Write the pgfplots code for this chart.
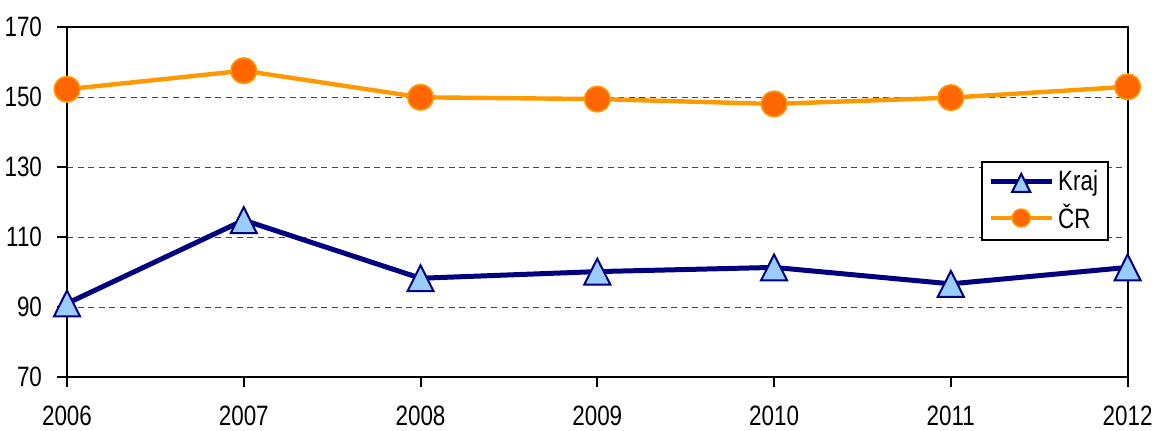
\documentclass[border=0pt]{standalone}
\usepackage{fontspec}
\setmainfont{Liberation Sans}[FakeStretch=0.8]
\usepackage{pgfplots}
\pgfplotsset{compat=1.18}
\definecolor{navyK}{RGB}{0,0,128}
\definecolor{lblue}{RGB}{153,204,255}
\definecolor{orgL}{RGB}{255,153,0}
\definecolor{orgF}{RGB}{255,102,0}
\definecolor{gridg}{RGB}{70,70,70}
\begin{document}
\begin{tikzpicture}
\useasboundingbox (0pt,0pt) rectangle (577.5pt,215pt);
\begin{axis}[
  at={(33.5pt,26.35pt)}, anchor=south west,
  scale only axis, width=530.3pt, height=175pt,
  xmin=2006, xmax=2012, ymin=70, ymax=170,
  xtick={2006,2007,2008,2009,2010,2011,2012},
  ytick={70,90,110,130,150,170},
  /pgf/number format/assume math mode=true,
  /pgf/number format/set thousands separator={},
  font=\fontsize{14}{16}\selectfont,
  ticklabel style={font=\fontsize{14}{16}\selectfont},
  yticklabel style={anchor=east, xshift=-4pt},
  xticklabel style={anchor=north, inner ysep=0pt, text depth=0pt, yshift=-9.3pt},
  tick align=outside, tick pos=left,
  major tick length=5pt,
  tick style={black, line width=1pt},
  axis line style={black, line width=1.1pt},
  ymajorgrids,
  major grid style={gridg, line width=0.55pt, dash pattern=on 3pt off 2.3pt},
  clip=false,
  legend cell align=left,
  legend style={at={(rel axis cs:0.9825,0.618)}, anchor=north east,
    draw=black, line width=1pt, inner xsep=3pt, inner ysep=2pt,
    row sep=1.5pt, font=\fontsize{14}{16}\selectfont,
    /tikz/every even column/.append style={column sep=2pt}},
  legend image code/.code={%
    \draw[mark repeat=2, mark phase=2, #1, every mark/.append style={scale=0.7}]
      plot coordinates {(0pt,0pt) (15.25pt,0pt) (30.5pt,0pt)};},
]
\addplot[navyK, line width=2.5pt, mark=triangle*, mark size=7.5pt,
  mark options={fill=lblue, draw=navyK, line width=1pt, yshift=-2.15pt, yscale=1.15}]
  coordinates {(2006,91.1) (2007,114.9) (2008,98.3) (2009,100.2) (2010,101.4) (2011,96.7) (2012,101.4)};
\addlegendentry{Kraj}
\addplot[orgL, line width=2.2pt, mark=*, mark size=6.4pt,
  mark options={fill=orgF, draw=orgL, line width=0.8pt}]
  coordinates {(2006,152.3) (2007,157.6) (2008,150.0) (2009,149.5) (2010,148.1) (2011,149.9) (2012,153.0)};
\addlegendentry{ČR}
\end{axis}
\end{tikzpicture}
\end{document}
